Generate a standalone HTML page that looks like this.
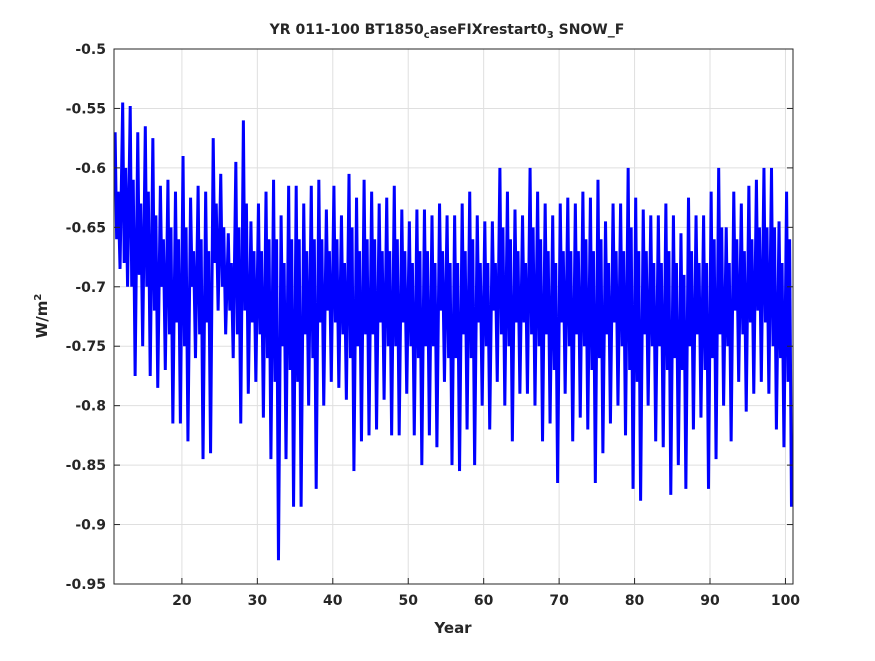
<!DOCTYPE html>
<html><head><meta charset="utf-8"><style>
body{margin:0;background:#fff;width:875px;height:656px;overflow:hidden;font-family:"Liberation Sans","DejaVu Sans",sans-serif}
svg text{font-family:"DejaVu Sans","Liberation Sans",sans-serif;font-weight:bold;fill:#262626}
</style></head><body>
<svg id="chart" width="875" height="656">
<rect x="114" y="49" width="679" height="535" fill="#fff" stroke="none"/>
<g id="grid"></g><g id="series"></g><g id="axes"></g>
<text x="447" y="34" text-anchor="middle" font-size="14">YR 011-100 BT1850<tspan font-size="10" dy="4">c</tspan><tspan dy="-4">aseFIXrestart0</tspan><tspan font-size="10" dy="4">3</tspan><tspan dy="-4"> SNOW_F</tspan></text>
<text x="453" y="633" text-anchor="middle" font-size="15">Year</text>
<text transform="translate(47,316) rotate(-90)" text-anchor="middle" font-size="15">W/m<tspan font-size="10" dy="-6">2</tspan></text>
</svg>
<script>
const years=[];for(let y=11;y<=100;y++)years.push(y);
const yearMax=[-0.57,-0.545,-0.548,-0.57,-0.565,-0.575,-0.615,-0.61,-0.62,-0.59,-0.625,-0.615,-0.62,-0.575,-0.605,-0.655,-0.595,-0.56,-0.645,-0.63,-0.62,-0.61,-0.64,-0.615,-0.615,-0.63,-0.615,-0.61,-0.635,-0.615,-0.64,-0.605,-0.625,-0.61,-0.62,-0.63,-0.625,-0.615,-0.635,-0.645,-0.635,-0.635,-0.64,-0.63,-0.64,-0.64,-0.63,-0.62,-0.64,-0.645,-0.645,-0.6,-0.62,-0.635,-0.64,-0.6,-0.62,-0.63,-0.64,-0.63,-0.625,-0.63,-0.62,-0.625,-0.61,-0.645,-0.63,-0.63,-0.6,-0.625,-0.635,-0.64,-0.64,-0.63,-0.64,-0.655,-0.625,-0.64,-0.64,-0.62,-0.6,-0.65,-0.62,-0.63,-0.615,-0.61,-0.6,-0.6,-0.645,-0.62];
const yearMidLow=[-0.66,-0.68,-0.7,-0.69,-0.7,-0.72,-0.7,-0.74,-0.73,-0.75,-0.7,-0.74,-0.73,-0.68,-0.7,-0.72,-0.74,-0.72,-0.73,-0.74,-0.76,-0.78,-0.75,-0.77,-0.78,-0.74,-0.76,-0.73,-0.72,-0.73,-0.74,-0.76,-0.75,-0.74,-0.74,-0.73,-0.75,-0.75,-0.73,-0.75,-0.76,-0.75,-0.75,-0.72,-0.76,-0.76,-0.74,-0.76,-0.73,-0.75,-0.72,-0.74,-0.75,-0.73,-0.73,-0.74,-0.75,-0.74,-0.77,-0.73,-0.75,-0.74,-0.75,-0.77,-0.76,-0.74,-0.73,-0.75,-0.77,-0.78,-0.74,-0.75,-0.75,-0.77,-0.76,-0.77,-0.75,-0.74,-0.77,-0.76,-0.74,-0.75,-0.72,-0.74,-0.73,-0.72,-0.73,-0.75,-0.76,-0.78];
const yearMidHigh=[-0.62,-0.6,-0.61,-0.63,-0.62,-0.64,-0.66,-0.65,-0.66,-0.65,-0.67,-0.66,-0.67,-0.63,-0.65,-0.68,-0.65,-0.63,-0.67,-0.67,-0.66,-0.66,-0.68,-0.66,-0.66,-0.67,-0.66,-0.66,-0.67,-0.66,-0.68,-0.65,-0.67,-0.66,-0.66,-0.67,-0.67,-0.66,-0.67,-0.68,-0.67,-0.67,-0.68,-0.67,-0.68,-0.68,-0.67,-0.66,-0.68,-0.68,-0.68,-0.65,-0.66,-0.67,-0.68,-0.65,-0.66,-0.67,-0.68,-0.67,-0.67,-0.67,-0.66,-0.67,-0.66,-0.68,-0.67,-0.67,-0.65,-0.67,-0.67,-0.68,-0.68,-0.67,-0.68,-0.69,-0.67,-0.68,-0.68,-0.66,-0.65,-0.68,-0.66,-0.67,-0.66,-0.65,-0.65,-0.65,-0.68,-0.66];
const yearMin=[-0.685,-0.7,-0.775,-0.75,-0.775,-0.785,-0.77,-0.815,-0.815,-0.83,-0.76,-0.845,-0.84,-0.72,-0.74,-0.76,-0.815,-0.79,-0.78,-0.81,-0.845,-0.93,-0.845,-0.885,-0.885,-0.8,-0.87,-0.8,-0.78,-0.785,-0.795,-0.855,-0.83,-0.825,-0.82,-0.795,-0.825,-0.825,-0.79,-0.825,-0.85,-0.825,-0.835,-0.78,-0.85,-0.855,-0.82,-0.85,-0.8,-0.82,-0.78,-0.8,-0.83,-0.79,-0.79,-0.8,-0.83,-0.815,-0.865,-0.79,-0.83,-0.81,-0.82,-0.865,-0.84,-0.815,-0.8,-0.825,-0.87,-0.88,-0.8,-0.83,-0.835,-0.875,-0.85,-0.87,-0.82,-0.81,-0.87,-0.845,-0.8,-0.83,-0.78,-0.805,-0.79,-0.78,-0.79,-0.82,-0.835,-0.885];
const xTicks=[20,30,40,50,60,70,80,90,100];
const yTicks=[-0.5,-0.55,-0.6,-0.65,-0.7,-0.75,-0.8,-0.85,-0.9,-0.95];
const yTickLabels=["-0.5","-0.55","-0.6","-0.65","-0.7","-0.75","-0.8","-0.85","-0.9","-0.95"];
const X0=114,X1=793,Y0=49,Y1=584,XMIN=11,XMAX=101,YMAX=-0.5,YMIN=-0.95;
const sx=v=>X0+(v-XMIN)/(XMAX-XMIN)*(X1-X0);
const sy=v=>Y0+(YMAX-v)/(YMAX-YMIN)*(Y1-Y0);
const NS="http://www.w3.org/2000/svg";
const grid=document.getElementById('grid'),axes=document.getElementById('axes'),ser=document.getElementById('series');
function mk(tag,attrs,parent){const e=document.createElementNS(NS,tag);for(const k in attrs)e.setAttribute(k,attrs[k]);parent.appendChild(e);return e;}
xTicks.forEach(t=>{
 const l=mk('line',{x1:sx(t),x2:sx(t),y1:Y0,y2:Y1,stroke:'#dfdfdf','stroke-width':1},grid);
 
 
 const tk=mk('line',{x1:sx(t),x2:sx(t),y1:Y1,y2:Y1-6,stroke:'#262626'},axes);
 
 
 const tx=mk('text',{x:sx(t),y:Y1+21,'text-anchor':'middle','font-size':14},axes);
 tx.textContent=t;
 
 
});
yTicks.forEach((t,i)=>{
 const l=mk('line',{x1:X0,x2:X1,y1:sy(t),y2:sy(t),stroke:'#dfdfdf','stroke-width':1},grid);
 
 
 const tk=mk('line',{x1:X0,x2:X0+6,y1:sy(t),y2:sy(t),stroke:'#262626'},axes);
 
 
 const tk2=mk('line',{x1:X1,x2:X1-6,y1:sy(t),y2:sy(t),stroke:'#262626'},axes);
 
 
 const tx=mk('text',{x:X0-8,y:sy(t)+5,'text-anchor':'end','font-size':14},axes);
 tx.textContent=yTickLabels[i];
 
 
});
const box=mk('rect',{x:X0,y:Y0,width:X1-X0,height:Y1-Y0,fill:'none',stroke:'#262626','stroke-width':1},axes);


let pts=[];
years.forEach((y,i)=>{
 pts.push(sx(y+0.15)+','+sy(yearMax[i]));
 pts.push(sx(y+0.35)+','+sy(yearMidLow[i]));
 pts.push(sx(y+0.55)+','+sy(yearMidHigh[i]));
 pts.push(sx(y+0.8)+','+sy(yearMin[i]));
});
const line=mk('polyline',{points:pts.join(' '),fill:'none',stroke:'#0000ff','stroke-width':3,'stroke-linejoin':'miter'},ser);


</script>
</body></html>
